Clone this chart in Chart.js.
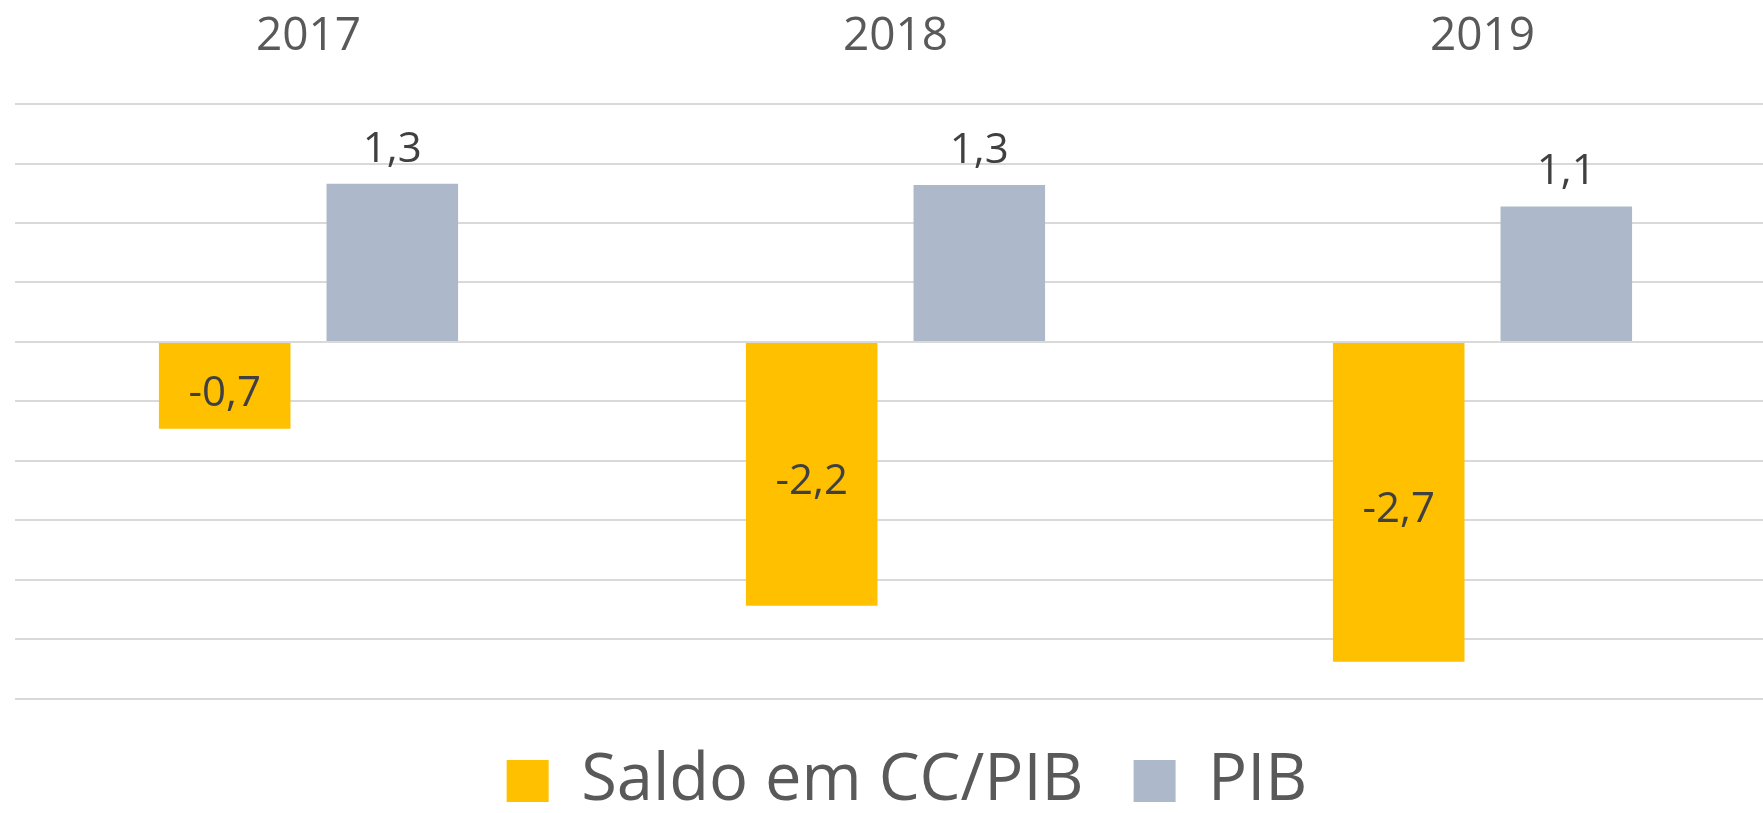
<!DOCTYPE html>
<html>
<head>
<meta charset="utf-8">
<script src="https://cdn.jsdelivr.net/npm/chart.js@4/dist/chart.umd.min.js"></script>
<style>
html,body{margin:0;padding:0;background:#fff;overflow:hidden;}
#wrap{width:1799px;height:870px;position:absolute;left:0;top:-40px;}
</style>
</head>
<body>
<div id="wrap"><canvas id="c"></canvas></div>
<script>
const categories = ['2017', '2018', '2019'];
const saldoCC = [-0.73, -2.22, -2.69];
const pib = [1.33, 1.32, 1.14];
const seriesNames = ['Saldo em CC/PIB', 'PIB'];
const yMin = -3, yMax = 2, yStep = 0.5;

const FONT = '"Open Sans", "DejaVu Sans", sans-serif';

const valueLabels = {
  id: 'valueLabels',
  afterDatasetsDraw(chart) {
    const ctx = chart.ctx;
    ctx.save();
    ctx.font = '42px ' + FONT;
    ctx.fillStyle = '#404040';
    ctx.textAlign = 'center';
    ctx.textBaseline = 'alphabetic';
    chart.data.datasets.forEach((ds, i) => {
      const meta = chart.getDatasetMeta(i);
      meta.data.forEach((bar, j) => {
        const v = ds.data[j];
        const txt = v.toFixed(1).replace('.', ',');
        let y;
        if (v >= 0) y = bar.y - 22;
        else y = (bar.y + bar.base) / 2 + 20;
        ctx.fillText(txt, bar.x, y);
      });
    });
    ctx.restore();
  }
};

new Chart(document.getElementById('c'), {
  type: 'bar',
  data: {
    labels: categories,
    datasets: [
      { label: seriesNames[0], data: saldoCC, backgroundColor: '#FFC000', borderWidth: 0 },
      { label: seriesNames[1], data: pib, backgroundColor: '#ADB9CA', borderWidth: 0 }
    ]
  },
  options: {
    responsive: true,
    maintainAspectRatio: false,
    animation: false,
    devicePixelRatio: 1,
    categoryPercentage: 0.571,
    barPercentage: 0.785,
    layout: { padding: { left: 15, right: 0, top: 9, bottom: 6.5 } },
    plugins: {
      tooltip: { enabled: false },
      legend: {
        position: 'bottom',
        labels: {
          boxWidth: 42,
          boxHeight: 42,
          padding: 50,
          color: '#595959',
          font: { family: FONT, size: 65 }
        }
      }
    },
    scales: {
      x: {
        position: 'top',
        grid: { display: false, drawTicks: false },
        border: { display: false },
        ticks: { color: '#595959', font: { family: FONT, size: 46 }, padding: 40 }
      },
      y: {
        position: 'right',
        min: yMin,
        max: yMax,
        ticks: { display: false, stepSize: yStep },
        grid: { color: '#d9d9d9', lineWidth: 2, drawTicks: false },
        border: { display: false },
        afterFit(scale) { scale.width = 23; }
      }
    }
  },
  plugins: [valueLabels]
});
</script>
</body>
</html>
